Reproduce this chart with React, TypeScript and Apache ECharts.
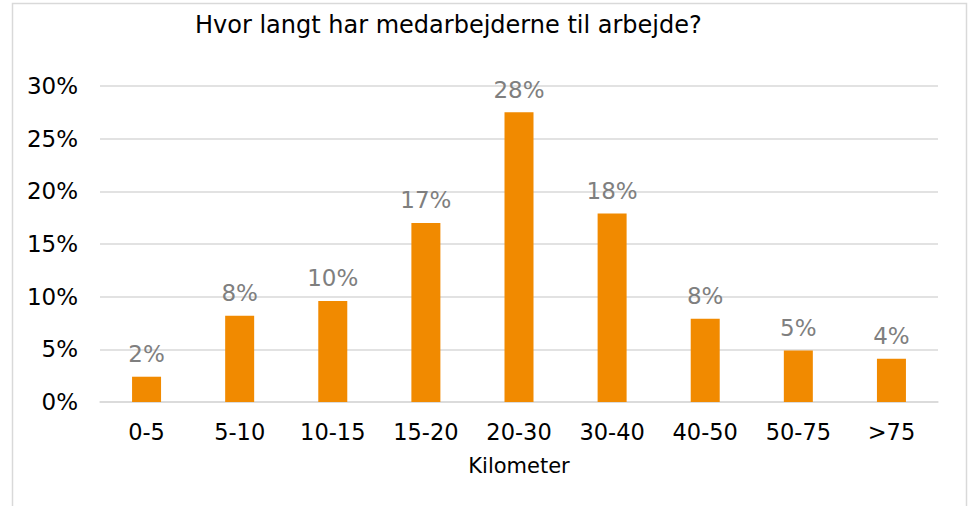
import React, { useEffect, useRef } from "react";
import * as echarts from "echarts";

const categories = ["0-5", "5-10", "10-15", "15-20", "20-30", "30-40", "40-50", "50-75", ">75"];
const shares = [2.4, 8.2, 9.6, 17.0, 27.5, 17.9, 7.9, 4.9, 4.1];
const yTicks = [0, 5, 10, 15, 20, 25, 30];

export default function App() {
  const ref = useRef<HTMLDivElement>(null);
  useEffect(() => {
    if (!ref.current) return;
    const chart = echarts.init(ref.current, undefined, { renderer: "svg" });
    const font = "'DejaVu Sans', Verdana, sans-serif";
    chart.setOption({
      animation: false,
      backgroundColor: "#ffffff",
      title: {
        text: "Hvor langt har medarbejderne til arbejde?",
        left: 190,
        top: 8,
        textStyle: { fontFamily: font, fontSize: 24, fontWeight: "normal", color: "#000000" },
      },
      graphic: [
        {
          type: "rect",
          shape: { x: 12.5, y: 3.5, width: 954, height: 510 },
          style: { fill: "none", stroke: "#d9d9d9", lineWidth: 1.5 },
          silent: true,
        },
      ],
      grid: { left: 100, right: 30, top: 86, bottom: 104 },
      xAxis: {
        type: "category",
        data: categories,
        name: "Kilometer",
        nameLocation: "middle",
        nameGap: 53,
        nameTextStyle: { fontFamily: font, fontSize: 21, color: "#000000" },
        axisLine: { lineStyle: { color: "#d9d9d9", width: 1.5 } },
        axisTick: { show: false },
        axisLabel: { fontFamily: font, fontSize: 22.5, color: "#000000", margin: 18 },
      },
      yAxis: {
        type: "value",
        min: yTicks[0],
        max: yTicks[yTicks.length - 1],
        interval: 5,
        axisLine: { show: false },
        axisTick: { show: false },
        splitLine: { lineStyle: { color: "#d9d9d9", width: 1.5 } },
        axisLabel: {
          fontFamily: font,
          fontSize: 23,
          color: "#000000",
          margin: 22,
          formatter: (v: number) => `${v}%`,
        },
      },
      series: [
        {
          type: "bar",
          data: shares,
          barWidth: 29,
          itemStyle: { color: "#F18A00" },
          label: {
            show: true,
            position: "top",
            distance: 11,
            fontFamily: font,
            fontSize: 23,
            color: "#7f7f7f",
            formatter: (p: any) => `${Math.round(p.value)}%`,
          },
        },
      ],
    });
    return () => chart.dispose();
  }, []);
  return (
    <div
      ref={ref}
      style={{ position: "fixed", left: 0, top: 0, width: 968, height: 506 }}
    />
  );
}
